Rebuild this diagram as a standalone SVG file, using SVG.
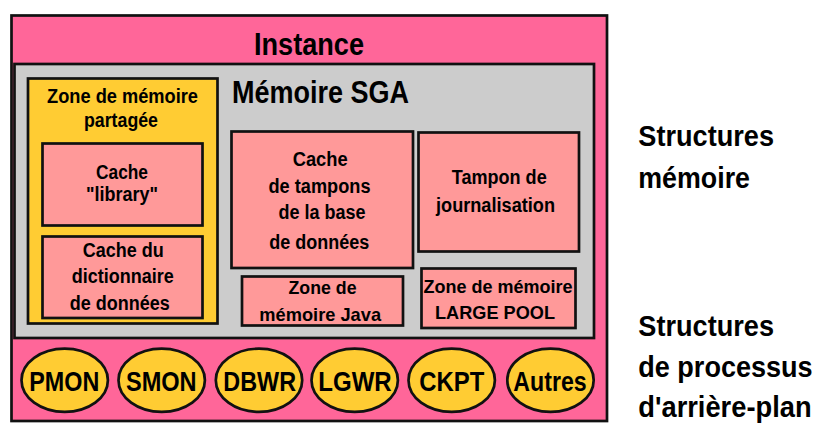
<svg xmlns="http://www.w3.org/2000/svg" width="839" height="441" viewBox="0 0 839 441">
  <style>
    .box { stroke: #111; stroke-width: 2.7; }
    .pink { fill: #FF6699; }
    .gray { fill: #CCCCCC; }
    .yellow { fill: #FFCC33; }
    .salmon { fill: #FF9999; }
    text { font-family: "Liberation Sans", Arial, sans-serif; font-weight: bold; fill: #000; }
    .mid { text-anchor: middle; }
    .t20 { font-size: 20px; }
    .t19 { font-size: 19px; }
    .t28 { font-size: 28px; }
    .t29 { font-size: 29px; }
    .t31 { font-size: 31px; }
  </style>
  <rect width="839" height="441" fill="#FFFFFF"/>

  <!-- Instance frame -->
  <g id="instance">
    <rect class="box pink" x="11.5" y="15.5" width="595.5" height="405.5" stroke-width="3"/>
    <text class="t31 mid" x="309" y="55" textLength="110" lengthAdjust="spacingAndGlyphs">Instance</text>
  </g>

  <!-- SGA memory area -->
  <g id="sga">
    <rect class="box gray" x="14.5" y="64" width="579.5" height="274"/>
    <text class="t31" x="232" y="102.5" textLength="177" lengthAdjust="spacingAndGlyphs">Mémoire SGA</text>
  </g>

  <!-- Shared pool -->
  <g id="shared-pool">
    <rect class="box yellow" x="28" y="78.5" width="189.5" height="245"/>
    <text class="t20 mid" x="122.5" y="103" textLength="151" lengthAdjust="spacingAndGlyphs">Zone de mémoire</text>
    <text class="t20 mid" x="121" y="127" textLength="74" lengthAdjust="spacingAndGlyphs">partagée</text>
  </g>

  <g id="library-cache">
    <rect class="box salmon" x="42.5" y="143.5" width="160" height="82"/>
    <text class="t20 mid" x="122" y="179" textLength="52" lengthAdjust="spacingAndGlyphs">Cache</text>
    <text class="t20 mid" x="122" y="201" textLength="72" lengthAdjust="spacingAndGlyphs">"library"</text>
  </g>

  <g id="dictionary-cache">
    <rect class="box salmon" x="42.5" y="236.5" width="160" height="81.5"/>
    <text class="t20 mid" x="123.3" y="257" textLength="81" lengthAdjust="spacingAndGlyphs">Cache du</text>
    <text class="t20 mid" x="122.8" y="282.5" textLength="102" lengthAdjust="spacingAndGlyphs">dictionnaire</text>
    <text class="t20 mid" x="119.7" y="309.5" textLength="100" lengthAdjust="spacingAndGlyphs">de données</text>
  </g>

  <!-- Database buffer cache -->
  <g id="buffer-cache">
    <rect class="box salmon" x="231.5" y="131.5" width="181.5" height="136.5"/>
    <text class="t20 mid" x="320.2" y="165.7" textLength="55" lengthAdjust="spacingAndGlyphs">Cache</text>
    <text class="t20 mid" x="319.5" y="192.7" textLength="102" lengthAdjust="spacingAndGlyphs">de tampons</text>
    <text class="t20 mid" x="322" y="219.3" textLength="87" lengthAdjust="spacingAndGlyphs">de la base</text>
    <text class="t20 mid" x="319.2" y="249.3" textLength="100" lengthAdjust="spacingAndGlyphs">de données</text>
  </g>

  <!-- Redo log buffer -->
  <g id="redo-log-buffer">
    <rect class="box salmon" x="418.5" y="132.5" width="160.5" height="119"/>
    <text class="t20 mid" x="499.2" y="184.3" textLength="95" lengthAdjust="spacingAndGlyphs">Tampon de</text>
    <text class="t20 mid" x="495.5" y="211.7" textLength="119" lengthAdjust="spacingAndGlyphs">journalisation</text>
  </g>

  <!-- Java pool -->
  <g id="java-pool">
    <rect class="box salmon" x="242" y="276.5" width="161" height="49"/>
    <text class="t19 mid" x="322.5" y="294.3" textLength="68" lengthAdjust="spacingAndGlyphs">Zone de</text>
    <text class="t19 mid" x="320.2" y="320.7" textLength="121.7" lengthAdjust="spacingAndGlyphs">mémoire Java</text>
  </g>

  <!-- Large pool -->
  <g id="large-pool">
    <rect class="box salmon" x="421.5" y="268.5" width="154" height="59.5"/>
    <text class="t19 mid" x="498" y="293.3" textLength="149" lengthAdjust="spacingAndGlyphs">Zone de mémoire</text>
    <text class="t19 mid" x="495" y="319.3" textLength="120" lengthAdjust="spacingAndGlyphs">LARGE POOL</text>
  </g>

  <!-- Background processes -->
  <g id="pmon">
    <ellipse class="box yellow" cx="64.7" cy="380.3" rx="43.2" ry="31.6" stroke-width="2.5"/>
    <text class="t28 mid" x="64.3" y="391" textLength="70" lengthAdjust="spacingAndGlyphs">PMON</text>
  </g>
  <g id="smon">
    <ellipse class="box yellow" cx="161.7" cy="380.3" rx="43.2" ry="31.6" stroke-width="2.5"/>
    <text class="t28 mid" x="161.3" y="391" textLength="70.7" lengthAdjust="spacingAndGlyphs">SMON</text>
  </g>
  <g id="dbwr">
    <ellipse class="box yellow" cx="259" cy="380.3" rx="43.2" ry="31.6" stroke-width="2.5"/>
    <text class="t28 mid" x="259.7" y="391" textLength="72.7" lengthAdjust="spacingAndGlyphs">DBWR</text>
  </g>
  <g id="lgwr">
    <ellipse class="box yellow" cx="354.7" cy="380.3" rx="43.2" ry="31.6" stroke-width="2.5"/>
    <text class="t28 mid" x="355" y="391" textLength="73.3" lengthAdjust="spacingAndGlyphs">LGWR</text>
  </g>
  <g id="ckpt">
    <ellipse class="box yellow" cx="451.7" cy="380.3" rx="43.2" ry="31.6" stroke-width="2.5"/>
    <text class="t28 mid" x="451.8" y="391" textLength="65" lengthAdjust="spacingAndGlyphs">CKPT</text>
  </g>
  <g id="autres">
    <ellipse class="box yellow" cx="550.5" cy="380.3" rx="43.2" ry="31.6" stroke-width="2.5"/>
    <text class="t28 mid" x="550" y="391" textLength="73.3" lengthAdjust="spacingAndGlyphs">Autres</text>
  </g>

  <!-- Side captions -->
  <g id="caption-memory">
    <text class="t29" x="638.3" y="145.7" textLength="135.7" lengthAdjust="spacingAndGlyphs">Structures</text>
    <text class="t29" x="638.3" y="187.5" textLength="111.7" lengthAdjust="spacingAndGlyphs">mémoire</text>
  </g>
  <g id="caption-processes">
    <text class="t29" x="638.3" y="335.7" textLength="135.7" lengthAdjust="spacingAndGlyphs">Structures</text>
    <text class="t29" x="638.3" y="376.7" textLength="174.3" lengthAdjust="spacingAndGlyphs">de processus</text>
    <text class="t29" x="638.3" y="416.7" textLength="173.3" lengthAdjust="spacingAndGlyphs">d'arrière-plan</text>
  </g>
</svg>
